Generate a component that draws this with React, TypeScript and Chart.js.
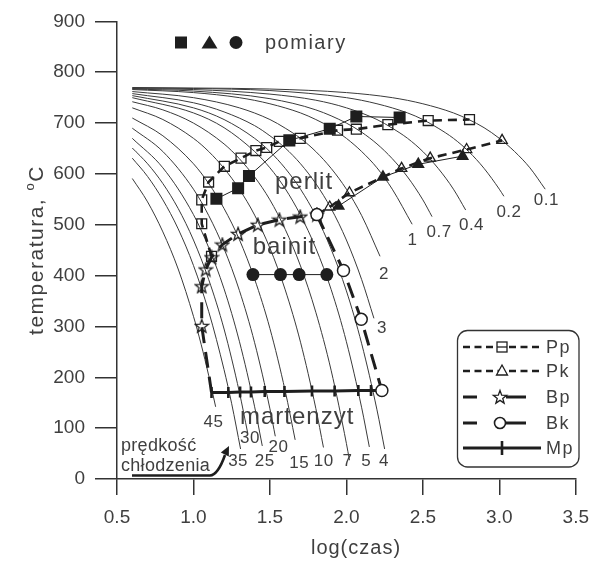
import React, { useEffect, useRef } from "react";
import { Chart, registerables } from "chart.js";

Chart.register(...registerables);

const FONT = '"Liberation Sans", Arial, Helvetica, sans-serif';
const INK = "#1e1e1e";
const CURVE = "#3a3a3a";
const TEXT = "#3f3f3f";

// Cooling curves: log(time) samples and temperature (°C) for each cooling rate
const lt01 = [0.6, 1.0, 1.5, 2.0, 2.3, 2.5, 2.7, 2.8, 2.9, 3.0, 3.1, 3.2, 3.3];
const tc01 = [770, 769, 767, 760, 750, 738, 720, 707, 691, 670, 644, 612, 570];
const lt02 = [0.6, 1.0, 1.5, 2.0, 2.2, 2.4, 2.5, 2.6, 2.7, 2.8, 2.9, 3.0, 3.03];
const tc02 = [769, 768, 764, 750, 738, 720, 707, 690, 670, 644, 611, 570, 556];
const lt04 = [0.6, 1.0, 1.5, 1.8, 2.0, 2.2, 2.3, 2.4, 2.5, 2.6, 2.7, 2.78];
const tc04 = [768, 766, 757, 745, 730, 707, 690, 670, 644, 611, 570, 529];
const lt07 = [0.6, 1.0, 1.5, 1.8, 2.0, 2.1, 2.2, 2.3, 2.4, 2.5, 2.56];
const tc07 = [767, 763, 748, 726, 700, 682, 659, 630, 594, 549, 516];
const lt1 = [0.6, 1.0, 1.3, 1.5, 1.7, 1.8, 1.9, 2.0, 2.1, 2.2, 2.3, 2.43];
const tc1 = [766, 760, 750, 738, 720, 707, 691, 670, 644, 612, 570, 501];
const lt2 = [0.6, 1.0, 1.3, 1.5, 1.6, 1.7, 1.8, 1.9, 2.0, 2.1, 2.22];
const tc2 = [762, 750, 730, 707, 690, 670, 644, 611, 570, 518, 438];
const lt3 = [0.6, 1.0, 1.2, 1.4, 1.5, 1.6, 1.7, 1.8, 1.9, 2.0, 2.1, 2.18];
const tc3 = [758, 740, 722, 695, 675, 651, 620, 581, 532, 470, 392, 316];
const lt4 = [0.6, 1.0, 1.2, 1.4, 1.5, 1.6, 1.7, 1.8, 1.9, 2.0, 2.1, 2.2, 2.25];
const tc4 = [754, 730, 707, 670, 644, 611, 570, 518, 452, 370, 266, 136, 59];
const lt5 = [0.6, 1.0, 1.2, 1.4, 1.5, 1.6, 1.7, 1.8, 1.9, 2.0, 2.1, 2.15];
const tc5 = [750, 720, 691, 644, 612, 571, 519, 454, 373, 270, 140, 63];
const lt7 = [0.6, 0.8, 1.0, 1.2, 1.3, 1.4, 1.5, 1.6, 1.7, 1.8, 1.9, 2.0, 2.02];
const tc7 = [742, 726, 700, 659, 630, 594, 549, 491, 419, 328, 214, 70, 37];
const lt10 = [0.6, 0.8, 1.0, 1.1, 1.2, 1.3, 1.4, 1.5, 1.6, 1.7, 1.8, 1.85];
const tc10 = [730, 707, 670, 644, 611, 570, 519, 454, 372, 269, 139, 62];
const lt15 = [0.6, 0.8, 1.0, 1.1, 1.2, 1.3, 1.4, 1.5, 1.6, 1.665];
const tc15 = [710, 675, 620, 581, 532, 471, 393, 296, 173, 77];
const lt20 = [0.6, 0.8, 1.0, 1.1, 1.2, 1.3, 1.4, 1.5, 1.535];
const tc20 = [690, 644, 570, 518, 453, 371, 268, 138, 84];
const lt25 = [0.6, 0.8, 1.0, 1.1, 1.2, 1.3, 1.4, 1.45];
const tc25 = [670, 612, 520, 455, 374, 271, 142, 65];
const lt30 = [0.6, 0.7, 0.8, 0.9, 1.0, 1.1, 1.2, 1.3, 1.355];
const tc30 = [651, 620, 581, 532, 470, 392, 295, 171, 90];
const lt35 = [0.6, 0.7, 0.8, 0.9, 1.0, 1.1, 1.2, 1.25, 1.308];
const tc35 = [631, 595, 549, 492, 420, 329, 215, 148, 59];
const lt45 = [0.6, 0.7, 0.8, 0.9, 1.0, 1.05, 1.1, 1.145];
const tc45 = [591, 545, 486, 413, 320, 265, 203, 142];

const curveTimes = [lt01, lt02, lt04, lt07, lt1, lt2, lt3, lt4, lt5, lt7, lt10, lt15, lt20, lt25, lt30, lt35, lt45];
const curveTemps = [tc01, tc02, tc04, tc07, tc1, tc2, tc3, tc4, tc5, tc7, tc10, tc15, tc20, tc25, tc30, tc35, tc45];

// Cooling-rate labels at the curve ends
const rateLabels = ["0.1", "0.2", "0.4", "0.7", "1", "2", "3", "4", "5", "7", "10", "15", "20", "25", "30", "35", "45"];
const rateLabelX = [3.307, 3.063, 2.818, 2.606, 2.432, 2.245, 2.232, 2.245, 2.129, 2.007, 1.852, 1.691, 1.556, 1.466, 1.369, 1.292, 1.131];
const rateLabelT = [549, 525, 498, 486, 469, 402, 297, 35, 35, 35, 35, 31, 62, 35, 80, 35, 111];

// Transformation lines (start / finish)
const ppX = [1.118, 1.054, 1.054, 1.099, 1.202, 1.311, 1.408, 1.479, 1.562, 1.698, 1.942, 2.065, 2.271, 2.535, 2.805];
const ppT = [438, 502, 549, 584, 615, 631, 646, 652, 664, 670, 686, 688, 697, 705, 707];
const pkX = [1.807, 1.891, 2.02, 2.361, 2.548, 2.786, 3.018];
const pkT = [520, 535, 563, 611, 631, 648, 666];
const bpX = [1.118, 1.054, 1.054, 1.08, 1.118, 1.189, 1.292, 1.421, 1.562, 1.698, 1.807];
const bpT = [170, 301, 379, 412, 436, 461, 482, 500, 510, 516, 520];
const bkX = [1.807, 1.981, 2.097, 2.232];
const bkT = [520, 410, 314, 174];
const mpX = [1.118, 1.228, 1.305, 1.376, 1.466, 1.595, 1.775, 1.923, 2.078, 2.161, 2.232];
const mpT = [170, 170, 171, 171, 172, 172, 173, 173, 174, 174, 174];

// Measured points
const sqX = [1.15, 1.292, 1.363, 1.627, 1.891, 2.065, 2.348];
const sqT = [551, 572, 596, 666, 689, 713, 711];
const triX = [1.949, 2.239, 2.47, 2.76];
const triT = [537, 594, 619, 635];
const dotX = [1.389, 1.569, 1.691, 1.872];
const dotT = [402, 402, 402, 402];

// Phase names
const phaseNames = ["perlit", "bainit", "martenzyt"];
const phaseX = [1.723, 1.595, 1.678];
const phaseT = [584, 455, 121];

const xTicks = [0.5, 1.0, 1.5, 2.0, 2.5, 3.0, 3.5];

const pts = (xs: number[], ys: number[]) => xs.map((x, i) => ({ x, y: ys[i] }));

function makeStar(): HTMLCanvasElement {
  const c = document.createElement("canvas");
  c.width = 16;
  c.height = 16;
  const g = c.getContext("2d")!;
  starPath(g, 8, 8.5, 7, 2.9);
  g.strokeStyle = INK;
  g.lineWidth = 1.3;
  g.stroke();
  return c;
}

function starPath(g: CanvasRenderingContext2D, cx: number, cy: number, ro: number, ri: number) {
  g.beginPath();
  for (let k = 0; k < 10; k++) {
    const r = k % 2 === 0 ? ro : ri;
    const a = -Math.PI / 2 + (k * Math.PI) / 5;
    const px = cx + r * Math.cos(a);
    const py = cy + r * Math.sin(a);
    if (k === 0) g.moveTo(px, py);
    else g.lineTo(px, py);
  }
  g.closePath();
}

function setSpacing(ctx: CanvasRenderingContext2D, v: string) {
  (ctx as any).letterSpacing = v;
}

const decor = {
  id: "decor",
  afterDraw(chart: any) {
    const { ctx } = chart;
    const xs = chart.scales.x;
    const ys = chart.scales.y;
    ctx.save();

    // rate labels
    ctx.fillStyle = TEXT;
    ctx.textAlign = "center";
    ctx.textBaseline = "middle";
    ctx.font = `17px ${FONT}`;
    setSpacing(ctx, "0.5px");
    rateLabels.forEach((s, i) => {
      ctx.fillText(s, xs.getPixelForValue(rateLabelX[i]), ys.getPixelForValue(rateLabelT[i]));
    });

    // phase names
    ctx.font = `24px ${FONT}`;
    setSpacing(ctx, "1px");
    phaseNames.forEach((s, i) => {
      ctx.fillText(s, xs.getPixelForValue(phaseX[i]), ys.getPixelForValue(phaseT[i]));
    });

    // measurement symbols key
    ctx.fillStyle = INK;
    ctx.fillRect(175, 36.5, 12, 12);
    ctx.beginPath();
    ctx.moveTo(209.5, 35.5);
    ctx.lineTo(217.5, 48.5);
    ctx.lineTo(201.5, 48.5);
    ctx.closePath();
    ctx.fill();
    ctx.beginPath();
    ctx.arc(236, 42.5, 6.5, 0, Math.PI * 2);
    ctx.fill();
    ctx.fillStyle = TEXT;
    ctx.textAlign = "left";
    ctx.textBaseline = "alphabetic";
    ctx.font = `20px ${FONT}`;
    setSpacing(ctx, "1.5px");
    ctx.fillText("pomiary", 265, 49);

    // cooling-rate note with arrow
    ctx.font = `18px ${FONT}`;
    setSpacing(ctx, "0.3px");
    ctx.fillText("prędkość", 121, 451);
    ctx.fillText("chłodzenia", 121, 471);
    ctx.strokeStyle = INK;
    ctx.lineWidth = 2.6;
    ctx.beginPath();
    ctx.moveTo(132, 475.5);
    ctx.lineTo(210, 475.5);
    ctx.quadraticCurveTo(218, 475, 225, 455);
    ctx.stroke();
    ctx.fillStyle = INK;
    ctx.beginPath();
    ctx.moveTo(229, 446);
    ctx.lineTo(228.8, 456.5);
    ctx.lineTo(220.8, 452.5);
    ctx.closePath();
    ctx.fill();

    // axis titles
    ctx.fillStyle = TEXT;
    ctx.font = `20px ${FONT}`;
    setSpacing(ctx, "1px");
    ctx.textAlign = "center";
    ctx.textBaseline = "middle";
    ctx.fillText("log(czas)", 356, 548);

    ctx.save();
    ctx.translate(37, 250);
    ctx.rotate(-Math.PI / 2);
    ctx.textAlign = "left";
    setSpacing(ctx, "1.5px");
    ctx.font = `21px ${FONT}`;
    const a = "temperatura, ";
    const wa = ctx.measureText(a).width;
    const wc = ctx.measureText("C").width;
    ctx.font = `13px ${FONT}`;
    const wo = ctx.measureText("o").width;
    let p = -(wa + wo + wc) / 2;
    ctx.font = `21px ${FONT}`;
    ctx.fillText(a, p, 0);
    p += wa;
    ctx.font = `13px ${FONT}`;
    ctx.fillText("o", p, -7);
    p += wo;
    ctx.font = `21px ${FONT}`;
    ctx.fillText("C", p, 0);
    ctx.restore();

    // series key
    const bx = 457.5, by = 330.5, bw = 121.5, bh = 136.5, r = 10;
    ctx.beginPath();
    ctx.moveTo(bx + r, by);
    ctx.arcTo(bx + bw, by, bx + bw, by + bh, r);
    ctx.arcTo(bx + bw, by + bh, bx, by + bh, r);
    ctx.arcTo(bx, by + bh, bx, by, r);
    ctx.arcTo(bx, by, bx + bw, by, r);
    ctx.closePath();
    ctx.fillStyle = "#fff";
    ctx.fill();
    ctx.strokeStyle = "#333";
    ctx.lineWidth = 1.3;
    ctx.stroke();

    const rows = [347, 371, 397, 423, 448];
    const names = ["Pp", "Pk", "Bp", "Bk", "Mp"];
    ctx.strokeStyle = INK;
    ctx.lineCap = "butt";
    // dashed rows
    [0, 1].forEach((k) => {
      ctx.lineWidth = 2.6;
      ctx.setLineDash([7, 4.5]);
      ctx.beginPath();
      ctx.moveTo(463, rows[k]);
      ctx.lineTo(541, rows[k]);
      ctx.stroke();
      ctx.setLineDash([]);
    });
    // long-dash rows
    [2, 3].forEach((k) => {
      ctx.lineWidth = 3;
      ctx.beginPath();
      ctx.moveTo(463, rows[k]);
      ctx.lineTo(477, rows[k]);
      ctx.moveTo(506, rows[k]);
      ctx.lineTo(526, rows[k]);
      ctx.stroke();
    });
    ctx.lineWidth = 3;
    ctx.beginPath();
    ctx.moveTo(463, rows[4]);
    ctx.lineTo(541, rows[4]);
    ctx.stroke();

    ctx.lineWidth = 1.3;
    // square
    ctx.fillStyle = "#fff";
    ctx.fillRect(497, rows[0] - 5, 10, 10);
    ctx.strokeRect(497, rows[0] - 5, 10, 10);
    ctx.beginPath();
    ctx.moveTo(497, rows[0]);
    ctx.lineTo(507, rows[0]);
    ctx.stroke();
    // triangle
    ctx.beginPath();
    ctx.moveTo(502, rows[1] - 6);
    ctx.lineTo(507.5, rows[1] + 4);
    ctx.lineTo(496.5, rows[1] + 4);
    ctx.closePath();
    ctx.fill();
    ctx.stroke();
    // star
    starPath(ctx, 500, rows[2] + 0.5, 7, 2.9);
    ctx.fill();
    ctx.stroke();
    // circle
    ctx.lineWidth = 1.6;
    ctx.beginPath();
    ctx.arc(500, rows[3], 5.5, 0, Math.PI * 2);
    ctx.fill();
    ctx.stroke();
    // vertical tick
    ctx.lineWidth = 2.6;
    ctx.beginPath();
    ctx.moveTo(502, rows[4] - 7);
    ctx.lineTo(502, rows[4] + 7);
    ctx.stroke();

    ctx.fillStyle = TEXT;
    ctx.font = `18px ${FONT}`;
    setSpacing(ctx, "1.5px");
    ctx.textAlign = "left";
    ctx.textBaseline = "middle";
    names.forEach((n, k) => ctx.fillText(n, 546, rows[k] + 1));

    ctx.restore();
  },
};

export default function App() {
  const ref = useRef<HTMLCanvasElement>(null);

  useEffect(() => {
    const star = makeStar();
    const curveSets = curveTimes.map((xs, i) => ({
      label: rateLabels[i],
      data: pts(xs, curveTemps[i]),
      borderColor: CURVE,
      borderWidth: 1,
      pointRadius: 0,
      cubicInterpolationMode: "monotone" as const,
      order: 10,
    }));

    const datasets: any[] = [
      {
        label: "Pp",
        data: pts(ppX, ppT),
        borderColor: INK,
        borderWidth: 2.6,
        borderDash: [9, 6],
        pointStyle: "rect",
        pointRadius: 7,
        pointBorderWidth: 1.3,
        pointBorderColor: INK,
        pointBackgroundColor: "rgba(0,0,0,0)",
        order: 3,
      },
      {
        label: "Pk",
        data: pts(pkX, pkT),
        borderColor: INK,
        borderWidth: 2.6,
        borderDash: [9, 6],
        pointStyle: "triangle",
        pointRadius: 6,
        pointBorderWidth: 1.3,
        pointBorderColor: INK,
        pointBackgroundColor: "rgba(0,0,0,0)",
        order: 3,
      },
      {
        label: "Bp",
        data: pts(bpX, bpT),
        borderColor: INK,
        borderWidth: 3,
        borderDash: [16, 9],
        pointStyle: star,
        pointRadius: bpX.map((_, i) => (i === 0 ? 0 : 7)),
        order: 3,
      },
      {
        label: "Bk",
        data: pts(bkX, bkT),
        borderColor: INK,
        borderWidth: 3,
        borderDash: [16, 9],
        pointStyle: "circle",
        pointRadius: 6,
        pointBorderWidth: 1.5,
        pointBorderColor: INK,
        pointBackgroundColor: "#fff",
        order: 1,
      },
      {
        label: "Mp",
        data: pts(mpX, mpT),
        borderColor: INK,
        borderWidth: 3,
        pointStyle: "line",
        rotation: 90,
        pointRotation: 90,
        pointRadius: mpX.map((_, i) => (i === mpX.length - 1 ? 0 : 5.5)),
        pointBorderWidth: 2.6,
        pointBorderColor: INK,
        order: 2,
      },
      {
        label: "squares",
        data: pts(sqX, sqT),
        borderColor: INK,
        borderWidth: 1,
        pointStyle: "rect",
        pointRadius: 8.5,
        pointBorderWidth: 0,
        pointBackgroundColor: INK,
        order: 4,
      },
      {
        label: "triangles",
        data: pts(triX, triT),
        borderColor: INK,
        borderWidth: 1,
        pointStyle: "triangle",
        pointRadius: 7.5,
        pointBorderWidth: 0,
        pointBackgroundColor: INK,
        order: 4,
      },
      {
        label: "dots",
        data: pts(dotX, dotT),
        borderColor: INK,
        borderWidth: 1,
        pointStyle: "circle",
        pointRadius: 6.5,
        pointBorderWidth: 0,
        pointBackgroundColor: INK,
        order: 4,
      },
      ...curveSets,
    ];

    const chart = new Chart(ref.current!, {
      type: "line",
      data: { datasets },
      options: {
        responsive: false,
        animation: false,
        events: [],
        layout: { padding: { top: 18, right: 17, left: 0, bottom: 0 } },
        plugins: { legend: { display: false }, tooltip: { enabled: false } },
        elements: { line: { tension: 0 } },
        scales: {
          x: {
            type: "linear",
            min: 0.5,
            max: 3.5,
            afterFit: (s: any) => {
              s.height = 85;
            },
            afterBuildTicks: (s: any) => {
              s.ticks = xTicks.map((v) => ({ value: v }));
            },
            ticks: {
              color: TEXT,
              font: { family: FONT, size: 19 },
              padding: 11,
              maxRotation: 0,
              callback: (v: any) => Number(v).toFixed(1),
            },
            grid: { drawOnChartArea: false, drawTicks: true, tickLength: 16, color: "#333", lineWidth: 1.5 },
            border: { display: true, color: "#333", width: 1.5 },
          },
          y: {
            min: 0,
            max: 900,
            afterFit: (s: any) => {
              s.width = 117;
            },
            ticks: {
              stepSize: 100,
              color: TEXT,
              font: { family: FONT, size: 19 },
              padding: 10,
            },
            grid: { drawOnChartArea: false, drawTicks: true, tickLength: 22, color: "#333", lineWidth: 1.5 },
            border: { display: true, color: "#333", width: 1.5 },
          },
        },
      },
      plugins: [decor],
    } as any);

    return () => chart.destroy();
  }, []);

  return (
    <div style={{ position: "absolute", left: 0, top: 0, width: 600, height: 564, background: "#fff" }}>
      <canvas ref={ref} width={600} height={564} style={{ display: "block", width: 600, height: 564 }} />
    </div>
  );
}
